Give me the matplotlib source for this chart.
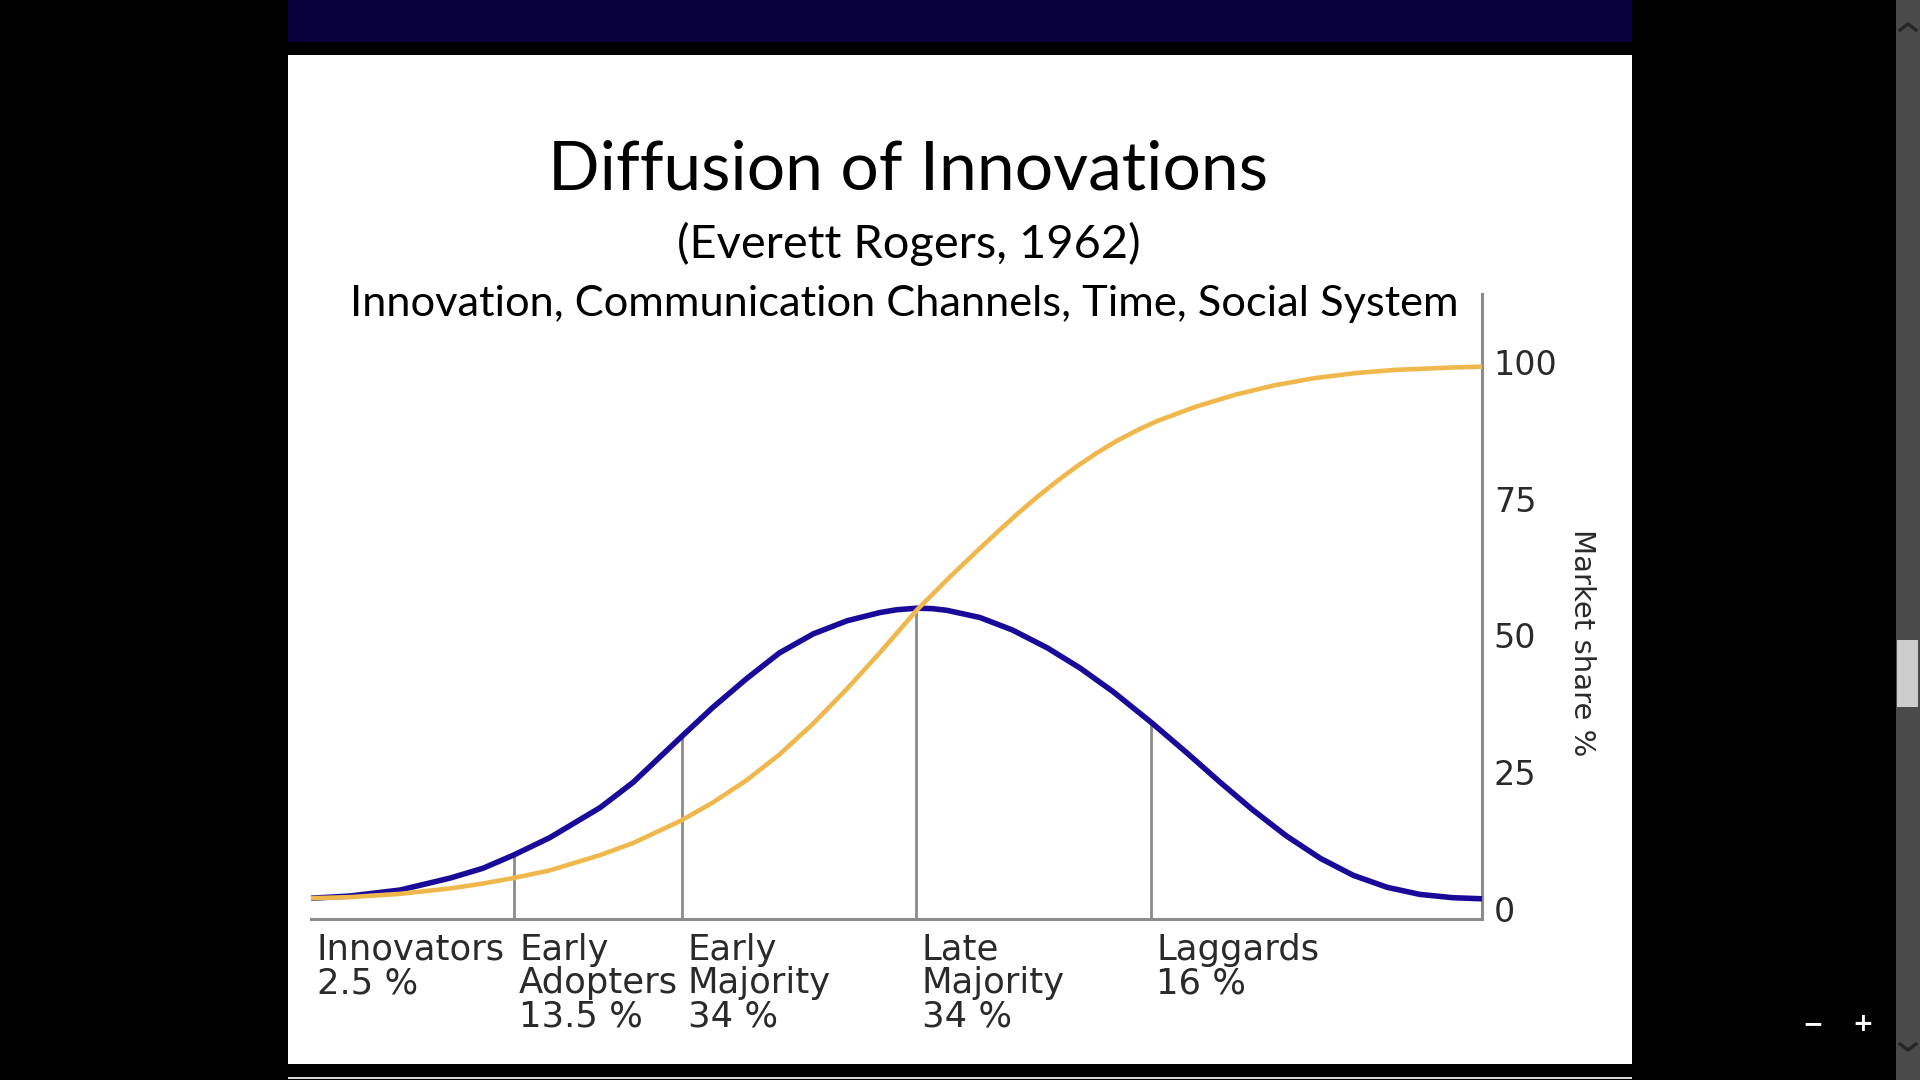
import numpy as np
import matplotlib
matplotlib.use('Agg')
import matplotlib.pyplot as plt
from matplotlib.patches import Rectangle
from matplotlib.lines import Line2D

# values: time runs 0..100 along the axis, y is market share %
time_pts = [0, 3.3, 7.6, 11.9, 14.7, 17.3, 20.4, 24.7, 27.5, 31.7, 34.3, 37.2, 40.0,
            42.9, 45.8, 48.6, 50.0, 51.8, 53.1, 54.3, 57.1, 59.9, 62.9, 65.7, 68.5,
            71.8, 74.8, 77.6, 80.4, 83.3, 86.2, 89.0, 91.9, 94.7, 97.5, 100]
adopters = [1.9, 2.3, 3.4, 5.6, 7.4, 9.8, 13.0, 18.5, 23.1, 31.6, 36.8, 42.1, 46.8,
            50.3, 52.7, 54.2, 54.7, 55.0, 54.9, 54.6, 53.3, 51.0, 47.7, 44.0, 39.7,
            34.0, 28.5, 23.2, 18.1, 13.3, 9.2, 6.1, 3.9, 2.6, 2.0, 1.8]

share_time = [0, 3.3, 7.6, 11.9, 14.7, 17.3, 20.4, 24.7, 27.5, 31.5, 34.3, 37.2, 40.0,
              42.9, 45.8, 48.6, 51.8, 54.6, 57.0, 58.8, 60.4, 62.1, 63.8, 65.5, 67.1,
              68.8, 70.5, 72.2, 75.6, 79.0, 82.3, 85.7, 89.1, 92.5, 97.5, 100]
market_share = [1.9, 2.1, 2.7, 3.7, 4.6, 5.6, 7.0, 9.8, 12.0, 16.0, 19.4, 23.5, 28.2,
                33.9, 40.3, 46.9, 54.8, 60.8, 65.7, 69.3, 72.4, 75.5, 78.4, 81.1, 83.4,
                85.6, 87.5, 89.2, 91.9, 94.1, 95.8, 97.1, 98.0, 98.6, 99.05, 99.2]

segment_names = ['Innovators', 'Early\nAdopters', 'Early\nMajority', 'Late\nMajority', 'Laggards']
segment_shares = ['2.5', '13.5', '34', '34', '16']
segment_starts = [0, 17.3, 31.7, 51.7, 71.7]
y_ticks = [0, 25, 50, 75, 100]

W, H = 1920, 1080
fig = plt.figure(figsize=(19.2, 10.8), dpi=100, facecolor='black')


def px_rect(x0, y0, x1, y1, color):
    # rectangle given in screen pixels (y from the top), kept behind the axes
    fig.add_artist(Rectangle((x0 / W, 1 - y1 / H), (x1 - x0) / W, (y1 - y0) / H,
                             transform=fig.transFigure, color=color, lw=0, zorder=-10))


# slide frame, viewer bars
px_rect(288, 0, 1632, 42, '#08003c')
px_rect(288, 55, 1632, 1064, 'white')
px_rect(288, 1077, 1632, 1079, '#d8d8d8')
px_rect(1896, 0, 1920, 1080, '#4a4a4a')
px_rect(1897, 640, 1918, 707, '#cdcdcd')
for ys in ([30, 24, 30], [1044, 1050, 1044]):
    fig.add_artist(Line2D([1900 / W, 1908 / W, 1916 / W], [1 - y / H for y in ys],
                          transform=fig.transFigure, color='#262626', lw=2.4, zorder=-5))
fig.text(1813 / W, 1 - 1031 / H, '\u2212', color='white', fontsize=18, fontweight='bold',
         ha='center', va='baseline')
fig.text(1863 / W, 1 - 1031 / H, '+', color='white', fontsize=18, fontweight='bold',
         ha='center', va='baseline')

# titles
title_font = 'Lato'
t1 = fig.text(908 / W, 1 - 190 / H, 'Diffusion of Innovations', fontsize=44,
              family=title_font, ha='center', va='baseline', color='black')
t2 = fig.text(909 / W, 1 - 258 / H, '(Everett Rogers, 1962)', fontsize=32,
              family=title_font, ha='center', va='baseline', color='black')
t3 = fig.text(904 / W, 1 - 316 / H, 'Innovation, Communication Channels, Time, Social System',
              fontsize=32, family=title_font, ha='center', va='baseline', color='black')
renderer = fig.canvas.get_renderer()
for t, target in ((t1, 720), (t2, 464), (t3, 1112)):
    w = t.get_window_extent(renderer).width
    t.set_fontsize(t.get_fontsize() * target / w)

# chart
ax = fig.add_axes([311 / W, 1 - 919 / H, 1171 / W, 625 / H])
ax.set_xlim(0, 100)
ax.set_ylim(-1.9, 112.5)
ax.set_facecolor('none')
for side in ('top', 'left'):
    ax.spines[side].set_visible(False)
for side in ('bottom', 'right'):
    ax.spines[side].set_color('#8c8c8c')
    ax.spines[side].set_linewidth(2.2)

grey = '#8c8c8c'
bounds = segment_starts[1:]
tops = np.interp(bounds, time_pts, adopters)
ax.vlines(bounds, -1.9, tops, colors=grey, lw=2.0, zorder=1)

ax.plot(time_pts, adopters, color='#1a0a99', lw=4.0, clip_on=False, zorder=3,
        solid_capstyle='butt', solid_joinstyle='round')
ax.plot(share_time, market_share, color='#f0b84c', lw=3.3, clip_on=False, zorder=4,
        solid_capstyle='butt', solid_joinstyle='round')

ax.set_xticks([])
ax.yaxis.tick_right()
ax.set_yticks(y_ticks)
ax.set_yticklabels([str(v) for v in y_ticks])
ax.tick_params(axis='y', length=0, pad=8.5, labelsize=24, labelcolor='#2a2a2a')
ax.yaxis.set_label_position('right')
ax.set_ylabel('Market share %', rotation=270, fontsize=21, color='#2a2a2a',
              va='center', ha='center')
ax.yaxis.set_label_coords(1.085, 0.4416)

for name, share, start in zip(segment_names, segment_shares, segment_starts):
    ax.annotate(f'{name}\n{share} %', xy=(start, 0), xycoords=('data', 'axes fraction'),
                xytext=(4, -10), textcoords='offset points', ha='left', va='top',
                fontsize=25.5, color='#2a2a2a', linespacing=0.98)

fig.savefig('out.png', dpi=100, facecolor='black')
